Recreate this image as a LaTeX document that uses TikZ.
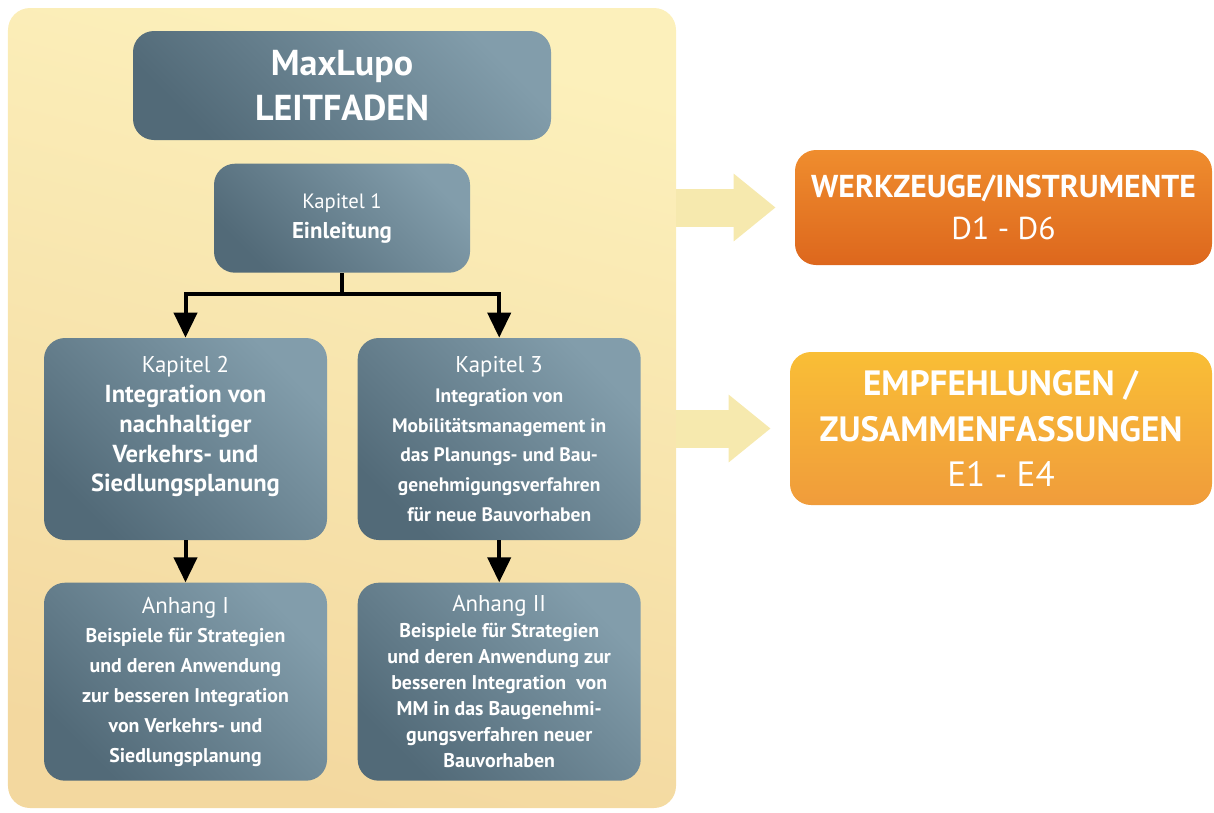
\documentclass[tikz,border=0pt]{standalone}
\usepackage{fontspec}
\setmainfont{PT Sans}
\usetikzlibrary{arrows.meta,positioning}

\definecolor{paneltop}{HTML}{FCF0BB}
\definecolor{panelbottom}{HTML}{F3D89F}
\definecolor{slatelight}{HTML}{829DAB}
\definecolor{slatedark}{HTML}{526A78}
\definecolor{werklight}{HTML}{EF8D2E}
\definecolor{werkdark}{HTML}{DD671D}
\definecolor{empflight}{HTML}{F9BE36}
\definecolor{empfdark}{HTML}{F09C3B}
\definecolor{fatyellow}{HTML}{F6E9AE}

\newcommand{\headline}[1]{{\mdseries\fontsize{13}{17}\selectfont #1}}

\begin{document}
\begin{tikzpicture}[
    every node/.style={text=white, font=\bfseries\fontsize{11.3}{17}\selectfont},
    panel/.style={rounded corners=0.44cm, minimum width=13.36cm, minimum height=16cm, top color=paneltop, bottom color=panelbottom, shading angle=-15},
    box/.style={rounded corners=0.42cm, align=center, top color=slatelight, bottom color=slatedark, shading angle=-45, minimum width=5.66cm, minimum height=4.04cm, inner sep=0pt},
    result/.style={rounded corners=0.42cm, align=center, shading angle=-60, inner sep=0pt},
    flow/.style={-{Triangle[length=0.5cm, width=0.46cm]}, line width=0.08cm},
    fat/.style={-{Triangle[length=0.84cm, width=1.3cm]}, line width=0.76cm, draw=fatyellow, shorten >=0.38cm}
]
\useasboundingbox (0,0) rectangle (24.28,-16.24);
\node[panel] (panel) at (6.84,-8.16) {};
\node[box, minimum width=8.36cm, minimum height=2.18cm, font=\bfseries\fontsize{20.5}{25.5}\selectfont] (title) at (6.84,-1.71) {MaxLupo\\LEITFADEN};
\node[box, minimum width=5.12cm, minimum height=2.18cm, font=\bfseries\fontsize{13}{17}\selectfont, below=0.46cm of title] (kap1) {{\mdseries\fontsize{11.8}{17}\selectfont Kapitel 1}\\Einleitung};
\node[box, font=\bfseries\fontsize{14}{17}\selectfont] (kap2) at (3.71,-8.78) {\headline{Kapitel 2}\\Integration von\\nachhaltiger\\Verkehrs- und\\Siedlungsplanung\\\mbox{}};
\node[box, right=0.6cm of kap2, font=\bfseries\fontsize{11.1}{17}\selectfont] (kap3) {\headline{Kapitel 3}\\Integration von\\Mobilitätsmanagement in\\das Planungs- und Bau-\\genehmigungsverfahren\\für neue Bauvorhaben};
\node[box, minimum height=3.96cm, below=0.84cm of kap2] (anh1) {\headline{Anhang I}\\Beispiele für Strategien\\und deren Anwendung\\zur besseren Integration\\von Verkehrs- und\\Siedlungsplanung};
\node[box, minimum height=3.96cm, below=0.84cm of kap3, font=\bfseries\fontsize{11.3}{14.8}\selectfont] (anh2) {\headline{Anhang II}\\Beispiele für Strategien\\und deren Anwendung zur\\besseren Integration~ von\\MM in das Baugenehmi-\\gungsverfahren neuer\\Bauvorhaben};
\node[result, top color=werklight, bottom color=werkdark, minimum width=8.34cm, minimum height=2.3cm, font=\fontsize{18}{24}\selectfont] (werk) at (20.07,-4.15) {\textbf{WERKZEUGE/INSTRUMENTE}\\D1 - D6};
\node[result, top color=empflight, bottom color=empfdark, minimum width=8.44cm, minimum height=3.06cm, font=\fontsize{20}{26}\selectfont] (empf) at (20.02,-8.57) {\textbf{EMPFEHLUNGEN /}\\\textbf{ZUSAMMENFASSUNGEN}\\E1 - E4};
% connectors
\draw[flow] (kap1.south) -- ++(0,-0.42) -| (kap2.north);
\draw[flow] (kap1.south) -- ++(0,-0.42) -| (kap3.north);
\draw[flow] (kap2.south) -- (anh1.north);
\draw[flow] (kap3.south) -- (anh2.north);
\draw[fat] (panel.east |- werk.west) -- (werk.west);
\draw[fat] (panel.east |- empf.west) -- (empf.west);
\end{tikzpicture}
\end{document}
